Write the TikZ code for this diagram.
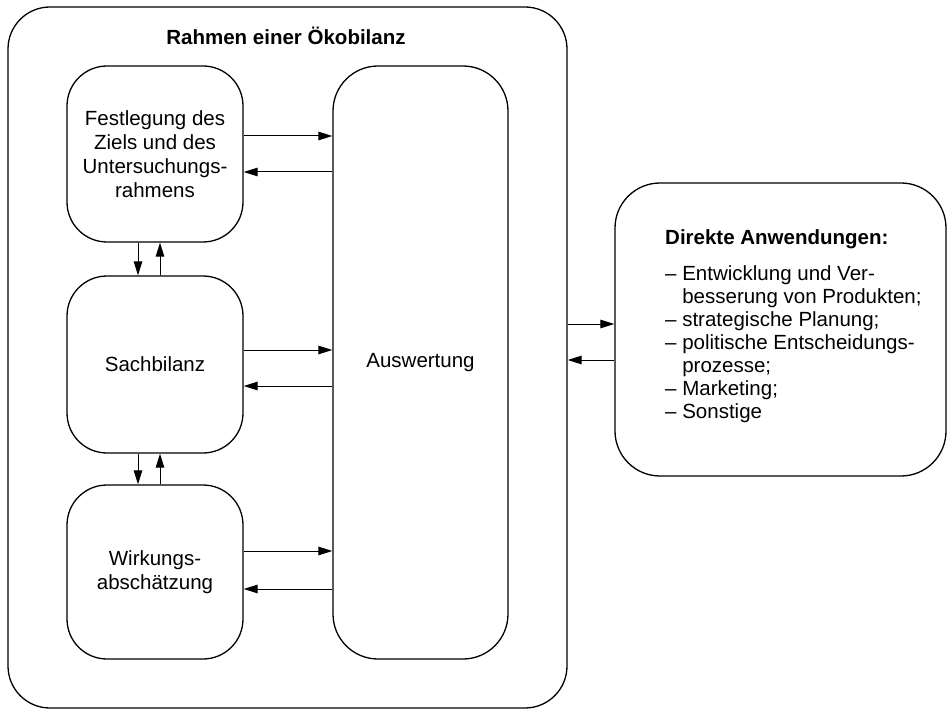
\documentclass[tikz,border=0pt]{standalone}
\usepackage{fontspec}
\setmainfont{Liberation Sans}
\usetikzlibrary{arrows.meta}
\begin{document}
\begin{tikzpicture}[x=1pt,y=-1pt,
  every node/.style={font=\fontsize{20.5}{24}\selectfont},
  rbox/.style={draw, line width=1.3pt, rounded corners=#1, inner sep=0pt, align=center},
  arr/.style={line width=1pt, -{Triangle[length=14pt,width=8.5pt]}},
  txt/.style={anchor=base west, inner sep=0pt}]
\useasboundingbox (0,0) rectangle (947,711);
% outer frame
\node[rbox=42pt, minimum width=559pt, minimum height=701pt] (frame) at (287.5,357.5) {};
\node[anchor=base, inner sep=0pt, font=\fontsize{20.5}{24}\selectfont\bfseries] (title) at (286,45) {Rahmen einer Ökobilanz};
% left boxes
\node[rbox=40pt, minimum width=176pt, minimum height=176pt] (ziel) at (155,154) {Festlegung des\\Ziels und des\\Untersuchungs-\\rahmens};
\node[rbox=40pt, minimum width=176pt, minimum height=177pt] (sach) at (155,364.5) {Sachbilanz};
\node[rbox=40pt, minimum width=176pt, minimum height=174pt] (wirk) at (155,572) {Wirkungs-\\abschätzung};
% Auswertung
\node[rbox=45pt, minimum width=175pt, minimum height=593pt] (ausw) at (420.5,362.5) {Auswertung};
% right box
\node[rbox=45pt, minimum width=331pt, minimum height=293pt] (apps) at (780.5,329.5) {};
\node[txt, font=\fontsize{20.5}{24}\selectfont\bfseries] (h) at (665,245) {Direkte Anwendungen:};
\node[txt] (l1) at (665,280) {– Entwicklung und Ver-};
\node[txt] (l2) at (665,303) {\hphantom{– }besserung von Produkten;};
\node[txt] (l3) at (665,326) {– strategische Planung;};
\node[txt] (l4) at (665,349) {– politische Entscheidungs-};
\node[txt] (l5) at (665,372) {\hphantom{– }prozesse;};
\node[txt] (l6) at (665,395) {– Marketing;};
\node[txt] (l7) at (665,418) {– Sonstige};
% horizontal arrows to/from Auswertung
\draw[arr] (ziel.east |- 0,136) -- (ausw.west |- 0,136);
\draw[arr] (ausw.west |- 0,172) -- (ziel.east |- 0,172);
\draw[arr] (sach.east |- 0,350) -- (ausw.west |- 0,350);
\draw[arr] (ausw.west |- 0,386) -- (sach.east |- 0,386);
\draw[arr] (wirk.east |- 0,551) -- (ausw.west |- 0,551);
\draw[arr] (ausw.west |- 0,589) -- (wirk.east |- 0,589);
% vertical arrows
\draw[arr] (ziel.south -| 138,0) -- (sach.north -| 138,0);
\draw[arr] (sach.north -| 160,0) -- (ziel.south -| 160,0);
\draw[arr] (sach.south -| 138,0) -- (wirk.north -| 138,0);
\draw[arr] (wirk.north -| 160,0) -- (sach.south -| 160,0);
% frame to applications
\draw[arr] (frame.east |- 0,324) -- (apps.west |- 0,324);
\draw[arr] (apps.west |- 0,360) -- (frame.east |- 0,360);
\end{tikzpicture}
\end{document}
